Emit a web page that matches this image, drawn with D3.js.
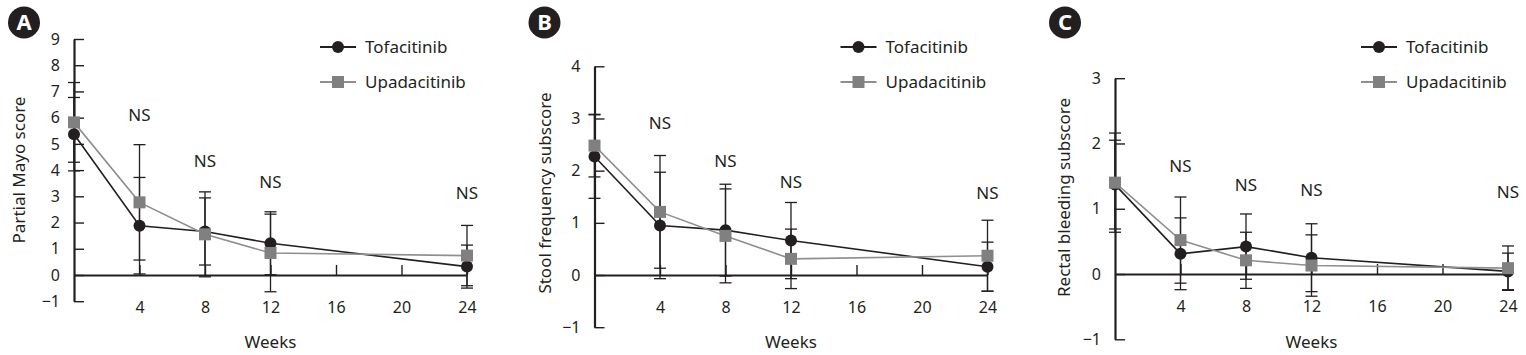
<!DOCTYPE html>
<html>
<head>
<meta charset="utf-8">
<script src="https://cdn.jsdelivr.net/npm/d3@7"></script>
<style>
body { margin: 0; background: #fff; }
svg text { font-family: "Noto Sans", sans-serif; }
</style>
</head>
<body>
<svg id="chart" width="1526" height="355"></svg>
<script>
// Uger og tick-labels
var weeks = [0, 4, 8, 12, 24];
var xTicks = [4, 8, 12, 16, 20, 24];
var nsWeeks = [4, 8, 12, 24];
var seriesNames = ["Tofacitinib", "Upadacitinib"];

// A: Partial Mayo score (middel og SD)
var mayoTofa = [5.37, 1.88, 1.66, 1.21, 0.32];
var mayoTofaSd = [1.40, 1.84, 1.28, 1.20, 0.82];
var mayoUpa = [5.82, 2.77, 1.55, 0.84, 0.74];
var mayoUpaSd = [1.52, 2.20, 1.62, 1.48, 1.15];
var mayoNs = [6.1, 4.35, 3.56, 3.12];

// B: Stool frequency subscore
var stoolTofa = [2.27, 0.95, 0.86, 0.66, 0.16];
var stoolTofaSd = [0.80, 1.02, 0.88, 0.73, 0.47];
var stoolUpa = [2.48, 1.21, 0.75, 0.31, 0.37];
var stoolUpaSd = [0.60, 1.08, 0.90, 0.57, 0.68];
var stoolNs = [2.92, 2.19, 1.79, 1.57];

// C: Rectal bleeding subscore
var bleedTofa = [1.37, 0.31, 0.42, 0.25, 0.04];
var bleedTofaSd = [0.68, 0.55, 0.50, 0.52, 0.28];
var bleedUpa = [1.40, 0.52, 0.21, 0.13, 0.09];
var bleedUpaSd = [0.76, 0.66, 0.43, 0.47, 0.34];
var bleedNs = [1.66, 1.36, 1.29, 1.26];

var dark = "#231f20";
var greyMarker = "#808080";
var greyLine = "#8f8f8f";

var panels = [
    { letter: "A", title: "Partial Mayo score", yMin: -1, yMax: 9,
      tofa: mayoTofa, tofaSd: mayoTofaSd, upa: mayoUpa, upaSd: mayoUpaSd, ns: mayoNs,
      axisX: 74, yTop: 39, yBottom: 301.2, titleX: 25, titleY: 170 },
    { letter: "B", title: "Stool frequency subscore", yMin: -1, yMax: 4,
      tofa: stoolTofa, tofaSd: stoolTofaSd, upa: stoolUpa, upaSd: stoolUpaSd, ns: stoolNs,
      axisX: 594.5, yTop: 66.3, yBottom: 327.2, titleX: 551, titleY: 193 },
    { letter: "C", title: "Rectal bleeding subscore", yMin: -1, yMax: 3,
      tofa: bleedTofa, tofaSd: bleedTofaSd, upa: bleedUpa, upaSd: bleedUpaSd, ns: bleedNs,
      axisX: 1115, yTop: 78.2, yBottom: 339.3, titleX: 1069.5, titleY: 197.5 }
];

var svg = d3.select("#chart");

function minusFormat(d) {
    return d < 0 ? "\u2212" + Math.abs(d) : String(d);
}

panels.forEach(function(p) {
    var g = svg.append("g");
    var x = d3.scaleLinear().domain([0, 24]).range([p.axisX, p.axisX + 393]);
    var y = d3.scaleLinear().domain([p.yMin, p.yMax]).range([p.yBottom, p.yTop]);

    // Y-akse med ticks indad
    var yAxis = g.append("g")
        .attr("transform", "translate(" + p.axisX + ",0)")
        .call(d3.axisLeft(y)
            .tickValues(d3.range(p.yMin, p.yMax + 1))
            .tickSizeInner(-10).tickSizeOuter(0).tickPadding(14)
            .tickFormat(minusFormat));

    // X-akse ved nul
    var xAxis = g.append("g")
        .attr("transform", "translate(0," + y(0) + ")")
        .call(d3.axisBottom(x)
            .tickValues(xTicks)
            .tickSizeInner(-10).tickSizeOuter(0).tickPadding(27));

    [yAxis, xAxis].forEach(function(ax) {
        ax.attr("font-family", null).attr("font-size", null);
        ax.select(".domain").attr("stroke", dark).attr("stroke-width", 2.2);
        ax.selectAll(".tick line").attr("stroke", dark).attr("stroke-width", 1.4);
        ax.selectAll(".tick text").attr("fill", dark).style("font-size", "16px");
    });

    var series = [
        { mean: p.tofa, sd: p.tofaSd, color: dark, shape: "circle" },
        { mean: p.upa, sd: p.upaSd, color: greyLine, shape: "square" }
    ];

    // Fejlbarer
    series.forEach(function(s) {
        weeks.forEach(function(w, i) {
            var lo = y(s.mean[i] - s.sd[i]), hi = y(s.mean[i] + s.sd[i]), cx = x(w);
            g.append("line").attr("x1", cx).attr("x2", cx).attr("y1", lo).attr("y2", hi)
                .attr("stroke", dark).attr("stroke-width", 1.3);
            [lo, hi].forEach(function(cy) {
                g.append("line").attr("x1", cx - 6).attr("x2", cx + 6).attr("y1", cy).attr("y2", cy)
                    .attr("stroke", dark).attr("stroke-width", 1.3);
            });
        });
    });

    // Linjer
    var line = d3.line().x(function(d, i) { return x(weeks[i]); }).y(function(d) { return y(d); });
    series.forEach(function(s) {
        g.append("path").datum(s.mean).attr("d", line)
            .attr("fill", "none").attr("stroke", s.color).attr("stroke-width", 1.6);
    });

    // Markører
    series.forEach(function(s) {
        s.mean.forEach(function(v, i) {
            if (s.shape === "circle") {
                g.append("circle").attr("cx", x(weeks[i])).attr("cy", y(v)).attr("r", 6).attr("fill", dark);
            } else {
                g.append("rect").attr("x", x(weeks[i]) - 6).attr("y", y(v) - 6)
                    .attr("width", 12).attr("height", 12).attr("fill", greyMarker);
            }
        });
    });

    // NS-labels
    nsWeeks.forEach(function(w, i) {
        g.append("text").attr("x", x(w)).attr("y", y(p.ns[i])).attr("dy", "0.35em")
            .attr("text-anchor", "middle").attr("fill", dark).style("font-size", "17px").text("NS");
    });

    // Aksetitler
    g.append("text").attr("x", x(12)).attr("y", 348).attr("text-anchor", "middle")
        .attr("fill", dark).style("font-size", "17px").text("Weeks");
    g.append("text").attr("transform", "translate(" + p.titleX + "," + p.titleY + ") rotate(-90)")
        .attr("text-anchor", "middle").attr("fill", dark).style("font-size", "17px").text(p.title);

    // Legende
    series.forEach(function(s, i) {
        var ly = 47 + i * 35, lx = p.axisX + 246;
        g.append("line").attr("x1", lx).attr("x2", lx + 36).attr("y1", ly).attr("y2", ly)
            .attr("stroke", s.color).attr("stroke-width", 1.8);
        if (s.shape === "circle") {
            g.append("circle").attr("cx", lx + 18).attr("cy", ly).attr("r", 6).attr("fill", dark);
        } else {
            g.append("rect").attr("x", lx + 12).attr("y", ly - 6).attr("width", 12).attr("height", 12).attr("fill", greyMarker);
        }
        g.append("text").attr("x", lx + 45).attr("y", ly).attr("dy", "0.35em")
            .attr("fill", dark).style("font-size", "17px").text(seriesNames[i]);
    });

    // Panelbogstav
    g.append("circle").attr("cx", p.axisX - 50).attr("cy", 22.5).attr("r", 16).attr("fill", dark);
    g.append("text").attr("x", p.axisX - 50).attr("y", 22.5).attr("dy", "0.36em")
        .attr("text-anchor", "middle").attr("fill", "#fff")
        .style("font-size", "22px").style("font-weight", "bold").text(p.letter);
});
</script>
</body>
</html>
